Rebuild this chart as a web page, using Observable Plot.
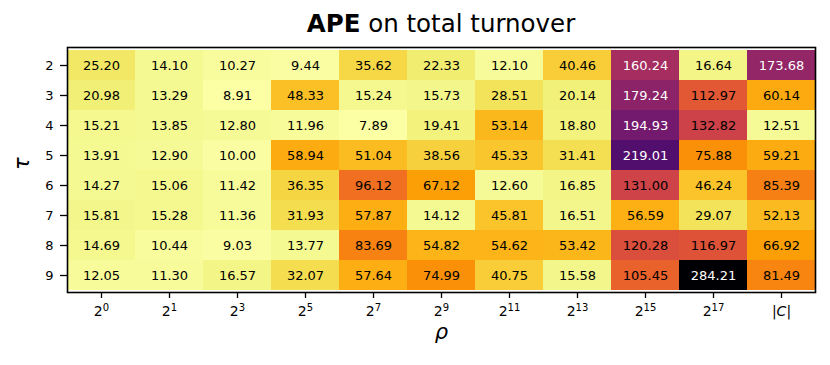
<!DOCTYPE html>
<html>
<head>
<meta charset="utf-8">
<script src="https://cdn.jsdelivr.net/npm/d3@7"></script>
<script src="https://cdn.jsdelivr.net/npm/@observablehq/plot@0.6"></script>
<style>
  html, body { margin: 0; padding: 0; background: #fff; }
  body { width: 830px; height: 365px; overflow: hidden; font-family: "DejaVu Sans", sans-serif; }
  #title { height: 40px; box-sizing: border-box; padding: 9px 15px 0 67px; text-align: center;
           font-size: 24.5px; line-height: 30px; color: #000; white-space: nowrap; }
  #title b { font-weight: bold; }
  svg { display: block; }
</style>
</head>
<body>
<div id="title"><b>APE</b> on total turnover</div>
<div id="chart"></div>
<script>
const rhoLabels = ["2^0", "2^1", "2^3", "2^5", "2^7", "2^9", "2^11", "2^13", "2^15", "2^17", "|C|"];
const tauValues = [2, 3, 4, 5, 6, 7, 8, 9];

const apeTau2 = [25.20, 14.10, 10.27, 9.44, 35.62, 22.33, 12.10, 40.46, 160.24, 16.64, 173.68];
const apeTau3 = [20.98, 13.29, 8.91, 48.33, 15.24, 15.73, 28.51, 20.14, 179.24, 112.97, 60.14];
const apeTau4 = [15.21, 13.85, 12.80, 11.96, 7.89, 19.41, 53.14, 18.80, 194.93, 132.82, 12.51];
const apeTau5 = [13.91, 12.90, 10.00, 58.94, 51.04, 38.56, 45.33, 31.41, 219.01, 75.88, 59.21];
const apeTau6 = [14.27, 15.06, 11.42, 36.35, 96.12, 67.12, 12.60, 16.85, 131.00, 46.24, 85.39];
const apeTau7 = [15.81, 15.28, 11.36, 31.93, 57.87, 14.12, 45.81, 16.51, 56.59, 29.07, 52.13];
const apeTau8 = [14.69, 10.44, 9.03, 13.77, 83.69, 54.82, 54.62, 53.42, 120.28, 116.97, 66.92];
const apeTau9 = [12.05, 11.30, 16.57, 32.07, 57.64, 74.99, 40.75, 15.58, 105.45, 284.21, 81.49];

const apeRows = [apeTau2, apeTau3, apeTau4, apeTau5, apeTau6, apeTau7, apeTau8, apeTau9];
const data = tauValues.flatMap((tau, i) =>
  rhoLabels.map((rho, j) => ({tau, rho, ape: apeRows[i][j]})));
const extent = d3.extent(data, d => d.ape);
const darkThreshold = extent[0] + 0.5 * (extent[1] - extent[0]);

const chart = Plot.plot({
  width: 830,
  height: 325,
  marginTop: 7,
  marginBottom: 73,
  marginLeft: 67,
  marginRight: 15,
  style: {fontFamily: "DejaVu Sans, sans-serif", fontSize: "13px", color: "#000", background: "#fff"},
  x: {domain: rhoLabels, padding: 0, label: null},
  y: {domain: tauValues, padding: 0, label: null},
  color: {type: "linear", scheme: "inferno", reverse: true, domain: extent},
  marks: [
    Plot.cell(data, {x: "rho", y: "tau", fill: "ape", shapeRendering: "crispEdges"}),
    Plot.text(data.filter(d => d.ape <= darkThreshold), {x: "rho", y: "tau", text: d => d.ape.toFixed(2), fill: "black", fontSize: 13}),
    Plot.text(data.filter(d => d.ape > darkThreshold), {x: "rho", y: "tau", text: d => d.ape.toFixed(2), fill: "white", fontSize: 13}),
    Plot.frame({stroke: "black", strokeWidth: 1.6}),
    Plot.axisX({tickSize: 6, tickPadding: 8, fontSize: 14, label: null, strokeWidth: 1.3}),
    Plot.axisY({tickSize: 7, tickPadding: 7, fontSize: 13, label: null, strokeWidth: 1.3}),
    Plot.text(["ρ"], {frameAnchor: "bottom", dy: 46, fontSize: 21, fontStyle: "italic", fill: "black"}),
    Plot.text(["τ"], {frameAnchor: "left", dx: -45, rotate: -90, fontSize: 21, fontStyle: "italic", fill: "black"})
  ]
});

// render the exponent labels with real superscripts
d3.select(chart).selectAll('g[aria-label="x-axis tick label"] text').each(function() {
  const t = d3.select(this);
  const label = t.text();
  t.text(null);
  if (label.startsWith("2^")) {
    t.append("tspan").text("2");
    t.append("tspan").attr("dy", "-5").attr("font-size", "10px").text(label.slice(2));
  } else {
    t.append("tspan").text("|");
    t.append("tspan").attr("font-style", "italic").text("C");
    t.append("tspan").text("|");
  }
});

document.getElementById("chart").appendChild(chart);
</script>
</body>
</html>
